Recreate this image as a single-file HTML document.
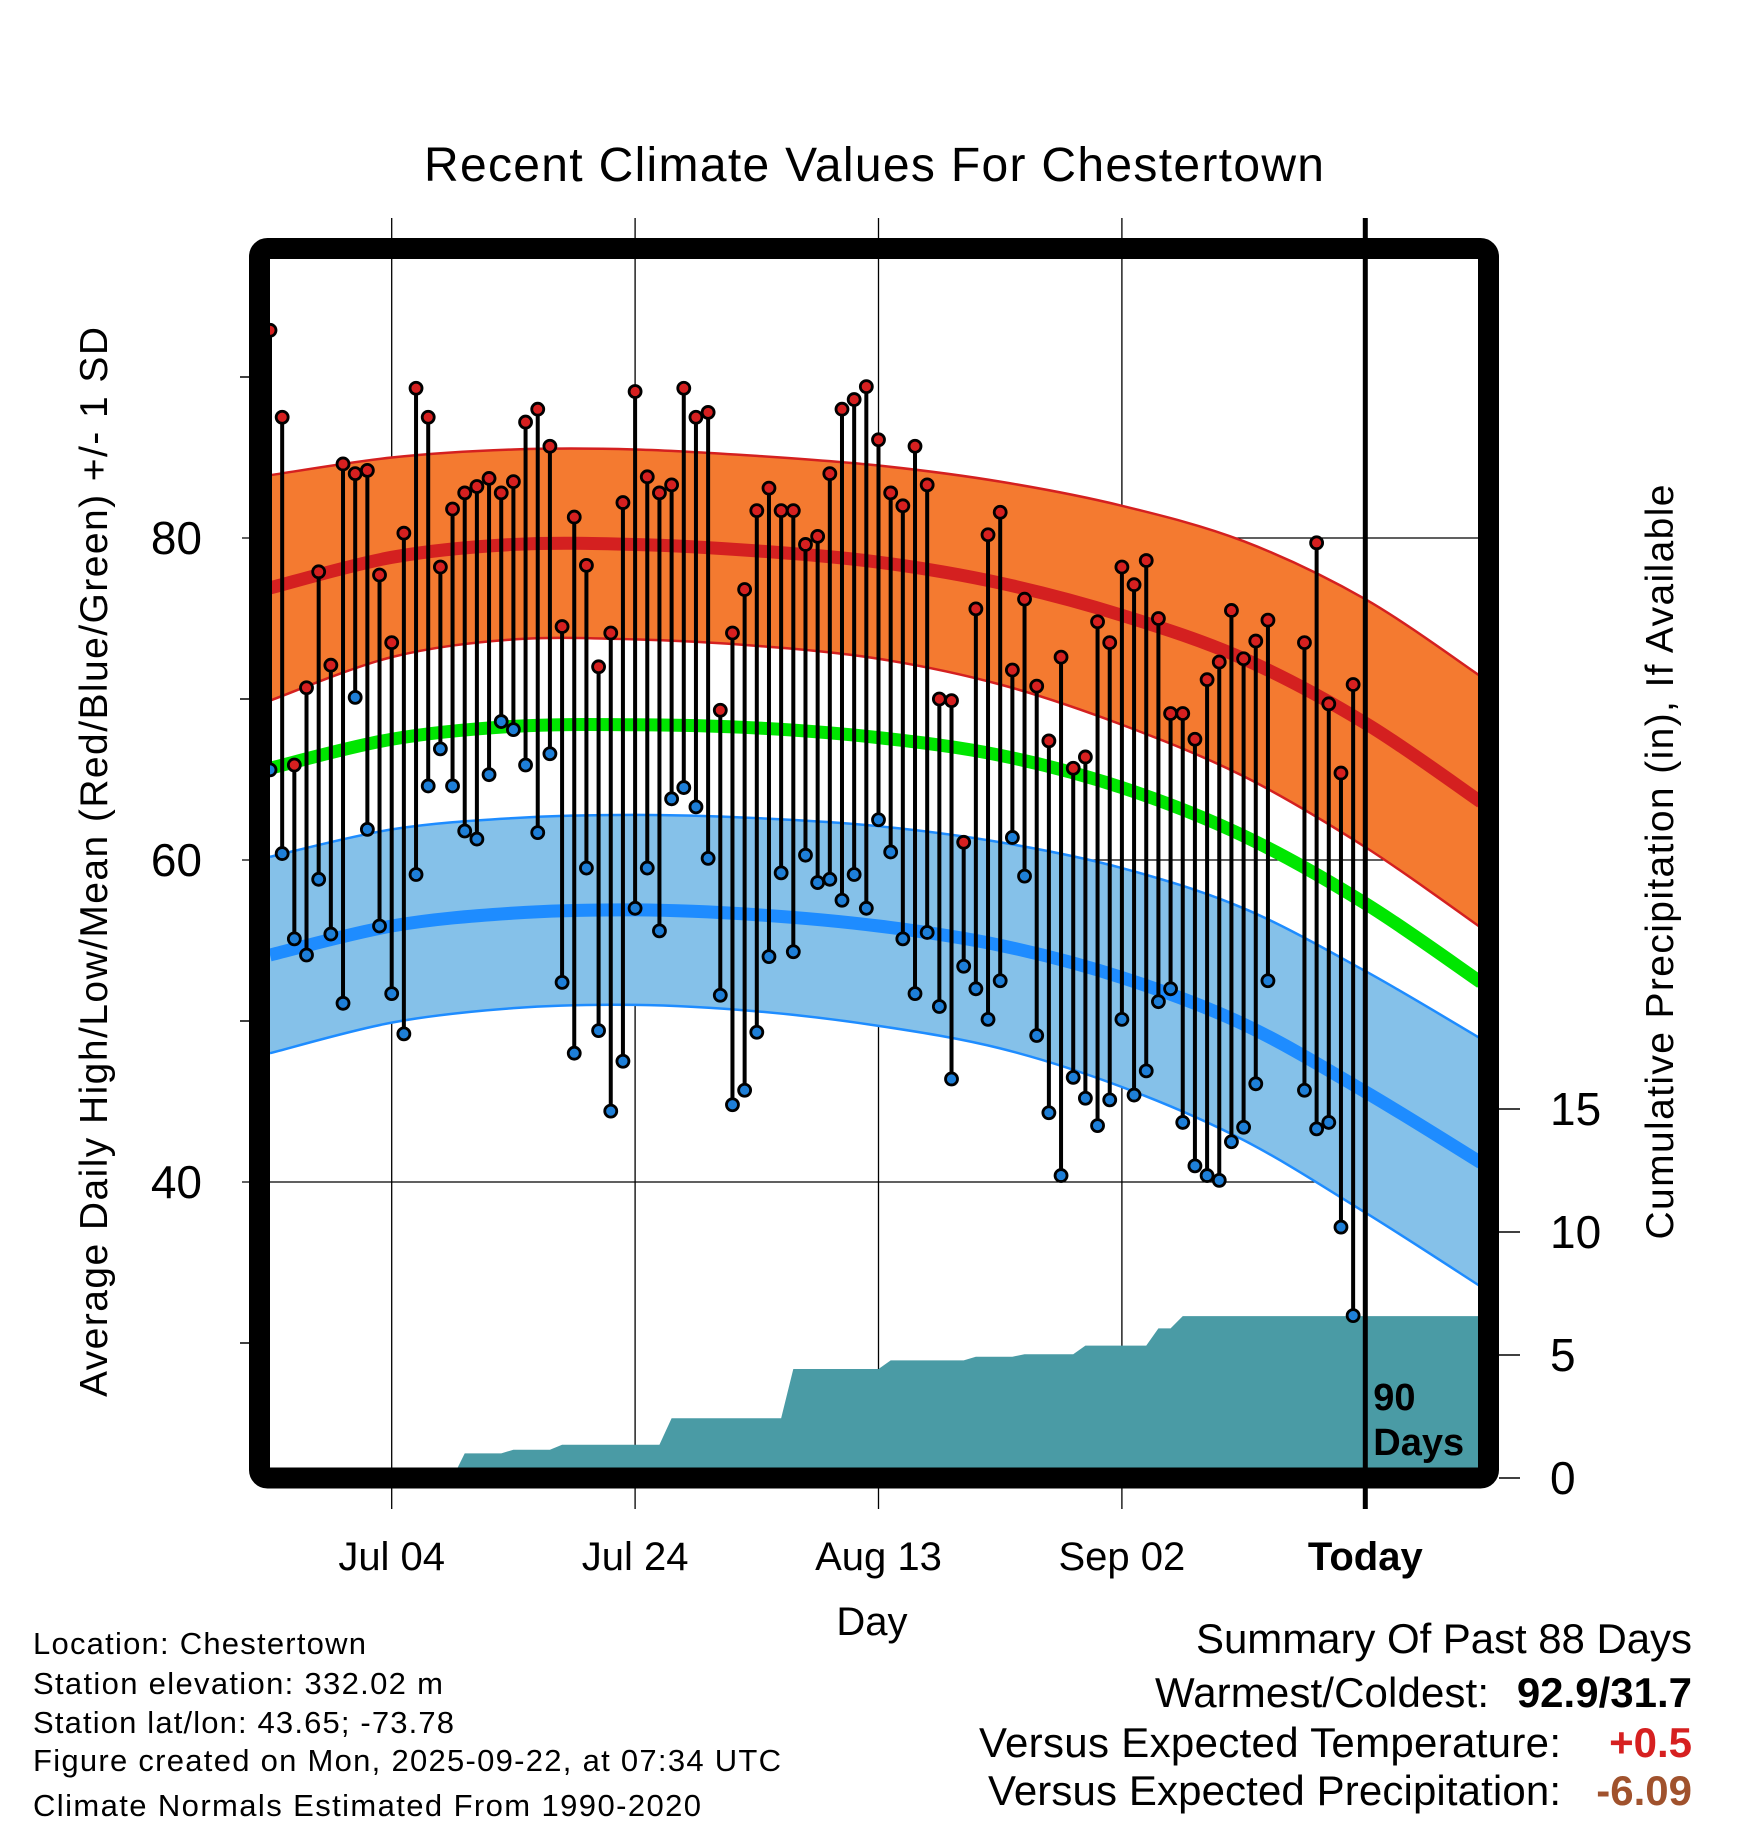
<!DOCTYPE html>
<html><head><meta charset="utf-8"><style>
html,body{margin:0;padding:0;background:#fff;}
svg{display:block;font-family:"Liberation Sans",sans-serif;}
</style></head><body>
<svg id="chart" width="1748" height="1828" viewBox="0 0 1748 1828" xmlns="http://www.w3.org/2000/svg">
<defs><clipPath id="plotclip"><rect x="260" y="249" width="1228" height="1229"/></clipPath></defs>
<text x="874" y="181" text-anchor="middle" font-size="48" textLength="900">Recent Climate Values For Chestertown</text>
<g id="grid"></g>
<g id="plot" clip-path="url(#plotclip)"></g>
<g id="axes"></g>
<text transform="translate(107,862) rotate(-90)" text-anchor="middle" font-size="39" textLength="1070">Average Daily High/Low/Mean (Red/Blue/Green) +/- 1 SD</text>
<text transform="translate(1673,862) rotate(-90)" text-anchor="middle" font-size="39" textLength="755">Cumulative Precipitation (in), If Available</text>
<text x="872" y="1635" text-anchor="middle" font-size="40">Day</text>
<g font-size="31">
<text x="33" y="1654" textLength="333">Location: Chestertown</text>
<text x="33" y="1694" textLength="410">Station elevation: 332.02 m</text>
<text x="33" y="1733" textLength="421">Station lat/lon: 43.65; -73.78</text>
<text x="33" y="1771" textLength="748">Figure created on Mon, 2025-09-22, at 07:34 UTC</text>
<text x="33" y="1816" textLength="668">Climate Normals Estimated From 1990-2020</text>
</g>
<g font-size="42">
<text x="1692" y="1653" text-anchor="end" textLength="496">Summary Of Past 88 Days</text>
<text x="1489" y="1707" text-anchor="end" textLength="334">Warmest/Coldest:</text>
<text x="1692" y="1707" text-anchor="end" font-weight="bold">92.9/31.7</text>
<text x="1561" y="1757" text-anchor="end" textLength="582">Versus Expected Temperature:</text>
<text x="1692" y="1757" text-anchor="end" font-weight="bold" fill="#d62020">+0.5</text>
<text x="1561" y="1805" text-anchor="end" textLength="573">Versus Expected Precipitation:</text>
<text x="1692" y="1805" text-anchor="end" font-weight="bold" fill="#a0522d">-6.09</text>
</g>
</svg>
<script>
const obsDays=[0,1,2,3,4,5,6,7,8,9,10,11,12,13,14,15,16,17,18,19,20,21,22,23,24,25,26,27,28,29,30,31,32,33,34,35,36,37,38,39,40,41,42,43,44,45,46,47,48,49,50,51,52,53,54,55,56,57,58,59,60,61,62,63,64,65,66,67,68,69,70,71,72,73,74,75,76,77,78,79,80,81,82,85,86,87,88,89];
const highs=[92.9,87.5,65.9,70.7,77.9,72.1,84.6,84.0,84.2,77.7,73.5,80.3,89.3,87.5,78.2,81.8,82.8,83.2,83.7,82.8,83.5,87.2,88.0,85.7,74.5,81.3,78.3,72.0,74.1,82.2,89.1,83.8,82.8,83.3,89.3,87.5,87.8,69.3,74.1,76.8,81.7,83.1,81.7,81.7,79.6,80.1,84.0,88.0,88.6,89.4,86.1,82.8,82.0,85.7,83.3,70.0,69.9,61.1,75.6,80.2,81.6,71.8,76.2,70.8,67.4,72.6,65.7,66.4,74.8,73.5,78.2,77.1,78.6,75.0,69.1,69.1,67.5,71.2,72.3,75.5,72.5,73.6,74.9,73.5,79.7,69.7,65.4,70.9];
const lows=[65.6,60.4,55.1,54.1,58.8,55.4,51.1,70.1,61.9,55.9,51.7,49.2,59.1,64.6,66.9,64.6,61.8,61.3,65.3,68.6,68.1,65.9,61.7,66.6,52.4,48.0,59.5,49.4,44.4,47.5,57.0,59.5,55.6,63.8,64.5,63.3,60.1,51.6,44.8,45.7,49.3,54.0,59.2,54.3,60.3,58.6,58.8,57.5,59.1,57.0,62.5,60.5,55.1,51.7,55.5,50.9,46.4,53.4,52.0,50.1,52.5,61.4,59.0,49.1,44.3,40.4,46.5,45.2,43.5,45.1,50.1,45.4,46.9,51.2,52.0,43.7,41.0,40.4,40.1,42.5,43.4,46.1,52.5,45.7,43.3,43.7,37.2,31.7];
const normDays=[0,10,20,30,40,50,60,70,80,90,99.5];
const normHigh=[76.9,78.8,79.6,79.6,79.2,78.5,77.2,75.2,72.5,68.5,63.6];
const normHighSd=[7.0,6.2,5.9,5.9,5.9,6.0,6.3,6.8,7.3,7.7,7.8];
const normMean=[65.7,67.5,68.3,68.4,68.2,67.6,66.5,64.5,61.5,57.3,52.4];
const normLow=[54.1,55.9,56.7,56.9,56.6,55.9,54.7,52.7,49.8,45.6,41.2];
const normLowSd=[6.1,6.0,5.9,5.9,6.0,6.2,6.4,6.8,7.2,7.5,7.7];
const precipDays=[16,20,24,33,43,51,58,62,67,73,75];
const precipAmt=[1.0,0.15,0.2,1.08,2.0,0.35,0.15,0.1,0.35,0.7,0.5];
const xTickDays=[10,30,50,70,90];
const xTickLabels=["Jul 04","Jul 24","Aug 13","Sep 02","Today"];
const yTicks=[40,60,80];
const yMinor=[30,50,70,90];
const pTicks=[0,5,10,15];

const NS="http://www.w3.org/2000/svg";
const X=d=>270+d*12.17;
const Y=t=>538+(80-t)*16.1;
const P=p=>1478-p*24.6;
function mk(parent,tag,attrs){const e=document.createElementNS(NS,tag);for(const k in attrs)e.setAttribute(k,attrs[k]);parent.appendChild(e);return e;}
const grid=document.getElementById('grid'),plot=document.getElementById('plot'),axes=document.getElementById('axes');

xTickDays.forEach((d,i)=>{
  if(i===4)return;
  const l=mk(grid,'line',{x1:X(d),x2:X(d),y1:218,y2:1509,stroke:'#000','stroke-width':1.3});
  
  
});
yTicks.forEach(t=>{
  const l=mk(grid,'line',{x1:242,x2:1488,y1:Y(t),y2:Y(t),stroke:'#000','stroke-width':1.3});
  
  
});

(function(){
  let pts=[[X(0),P(0)]],cum=0;
  for(let d=0;d<=100;d++){const i=precipDays.indexOf(d);if(i>=0)cum+=precipAmt[i];pts.push([X(d),P(cum)]);}
  pts.push([X(100),P(0)]);
  const a=mk(plot,'polygon',{points:pts.map(p=>p.join(',')).join(' '),fill:'#4a9ba5'});
  
  
})();

function curve(vals){return normDays.map((d,i)=>[X(d),Y(vals[i])]);}
function smoothPath(pts){let s='M'+pts[0].join(',');for(let i=0;i<pts.length-1;i++){const p0=pts[Math.max(0,i-1)],p1=pts[i],p2=pts[i+1],p3=pts[Math.min(pts.length-1,i+2)];s+=' C'+(p1[0]+(p2[0]-p0[0])/6)+','+(p1[1]+(p2[1]-p0[1])/6)+' '+(p2[0]-(p3[0]-p1[0])/6)+','+(p2[1]-(p3[1]-p1[1])/6)+' '+p2.join(',');}return s;}
function band(mean,sd,fill,edge,name){
  const up=curve(mean.map((m,i)=>m+sd[i])),lo=curve(mean.map((m,i)=>m-sd[i]));
  const loR=lo.slice().reverse();
  const d=smoothPath(up)+' L'+loR[0].join(',')+smoothPath(loR).slice(1).replace(/^[^C]*/,'')+' Z';
  const b=mk(plot,'path',{d:d,fill:fill});
  
  
  [up,lo].forEach(c=>{const e=mk(plot,'path',{d:smoothPath(c),fill:'none',stroke:edge,'stroke-width':2.5});
    
    });
}
band(normHigh,normHighSd,'#f47a30','#d42020','normal-high');
band(normLow,normLowSd,'#85c1e9','#1e8cff','normal-low');
[[normHigh,'#d42020','normal-high-line'],[normMean,'#00e600','normal-mean-line'],[normLow,'#1e8cff','normal-low-line']].forEach(([v,c,n])=>{
  const l=mk(plot,'path',{d:smoothPath(curve(v)),fill:'none',stroke:c,'stroke-width':13});
  
  
});

obsDays.forEach((d,i)=>{
  const s=mk(plot,'line',{x1:X(d),x2:X(d),y1:Y(highs[i]),y2:Y(lows[i]),stroke:'#000','stroke-width':4});
  
  
});
obsDays.forEach((d,i)=>{
  const h=mk(plot,'circle',{cx:X(d),cy:Y(highs[i]),r:6,fill:'#d62020',stroke:'#000','stroke-width':2.8});
  
  
  const l=mk(plot,'circle',{cx:X(d),cy:Y(lows[i]),r:6,fill:'#1e7fd8',stroke:'#000','stroke-width':2.8});
  
  
});

const tl=mk(axes,'line',{x1:X(90),x2:X(90),y1:218,y2:1509,stroke:'#000','stroke-width':5});


const t90=mk(axes,'text',{x:X(90)+8,y:1410,'font-size':38,'font-weight':'bold'});t90.textContent='90';


const tdy=mk(axes,'text',{x:X(90)+8,y:1455,'font-size':38,'font-weight':'bold'});tdy.textContent='Days';



const fr=mk(axes,'rect',{x:259.5,y:248.5,width:1229,height:1229.5,rx:8,fill:'none',stroke:'#000','stroke-width':21});



xTickDays.forEach((d,i)=>{
  const t=mk(axes,'text',{x:X(d),y:1570,'text-anchor':'middle','font-size':40,'font-weight':i===4?'bold':'normal'});
  t.textContent=xTickLabels[i];
  
  
});
yTicks.forEach(v=>{
  const t=mk(axes,'text',{x:202,y:Y(v)+16,'text-anchor':'end','font-size':46});
  t.textContent=v;
  
  
});
yMinor.forEach(v=>{
  const m=mk(axes,'line',{x1:240,x2:250,y1:Y(v),y2:Y(v),stroke:'#000','stroke-width':1.5});
  
  
});
pTicks.forEach(v=>{
  const m=mk(axes,'line',{x1:1499,x2:1520,y1:P(v),y2:P(v),stroke:'#000','stroke-width':1.5});
  
  
  const t=mk(axes,'text',{x:1550,y:P(v)+16,'font-size':46});
  t.textContent=v;
  
  
});
</script>
</body></html>
